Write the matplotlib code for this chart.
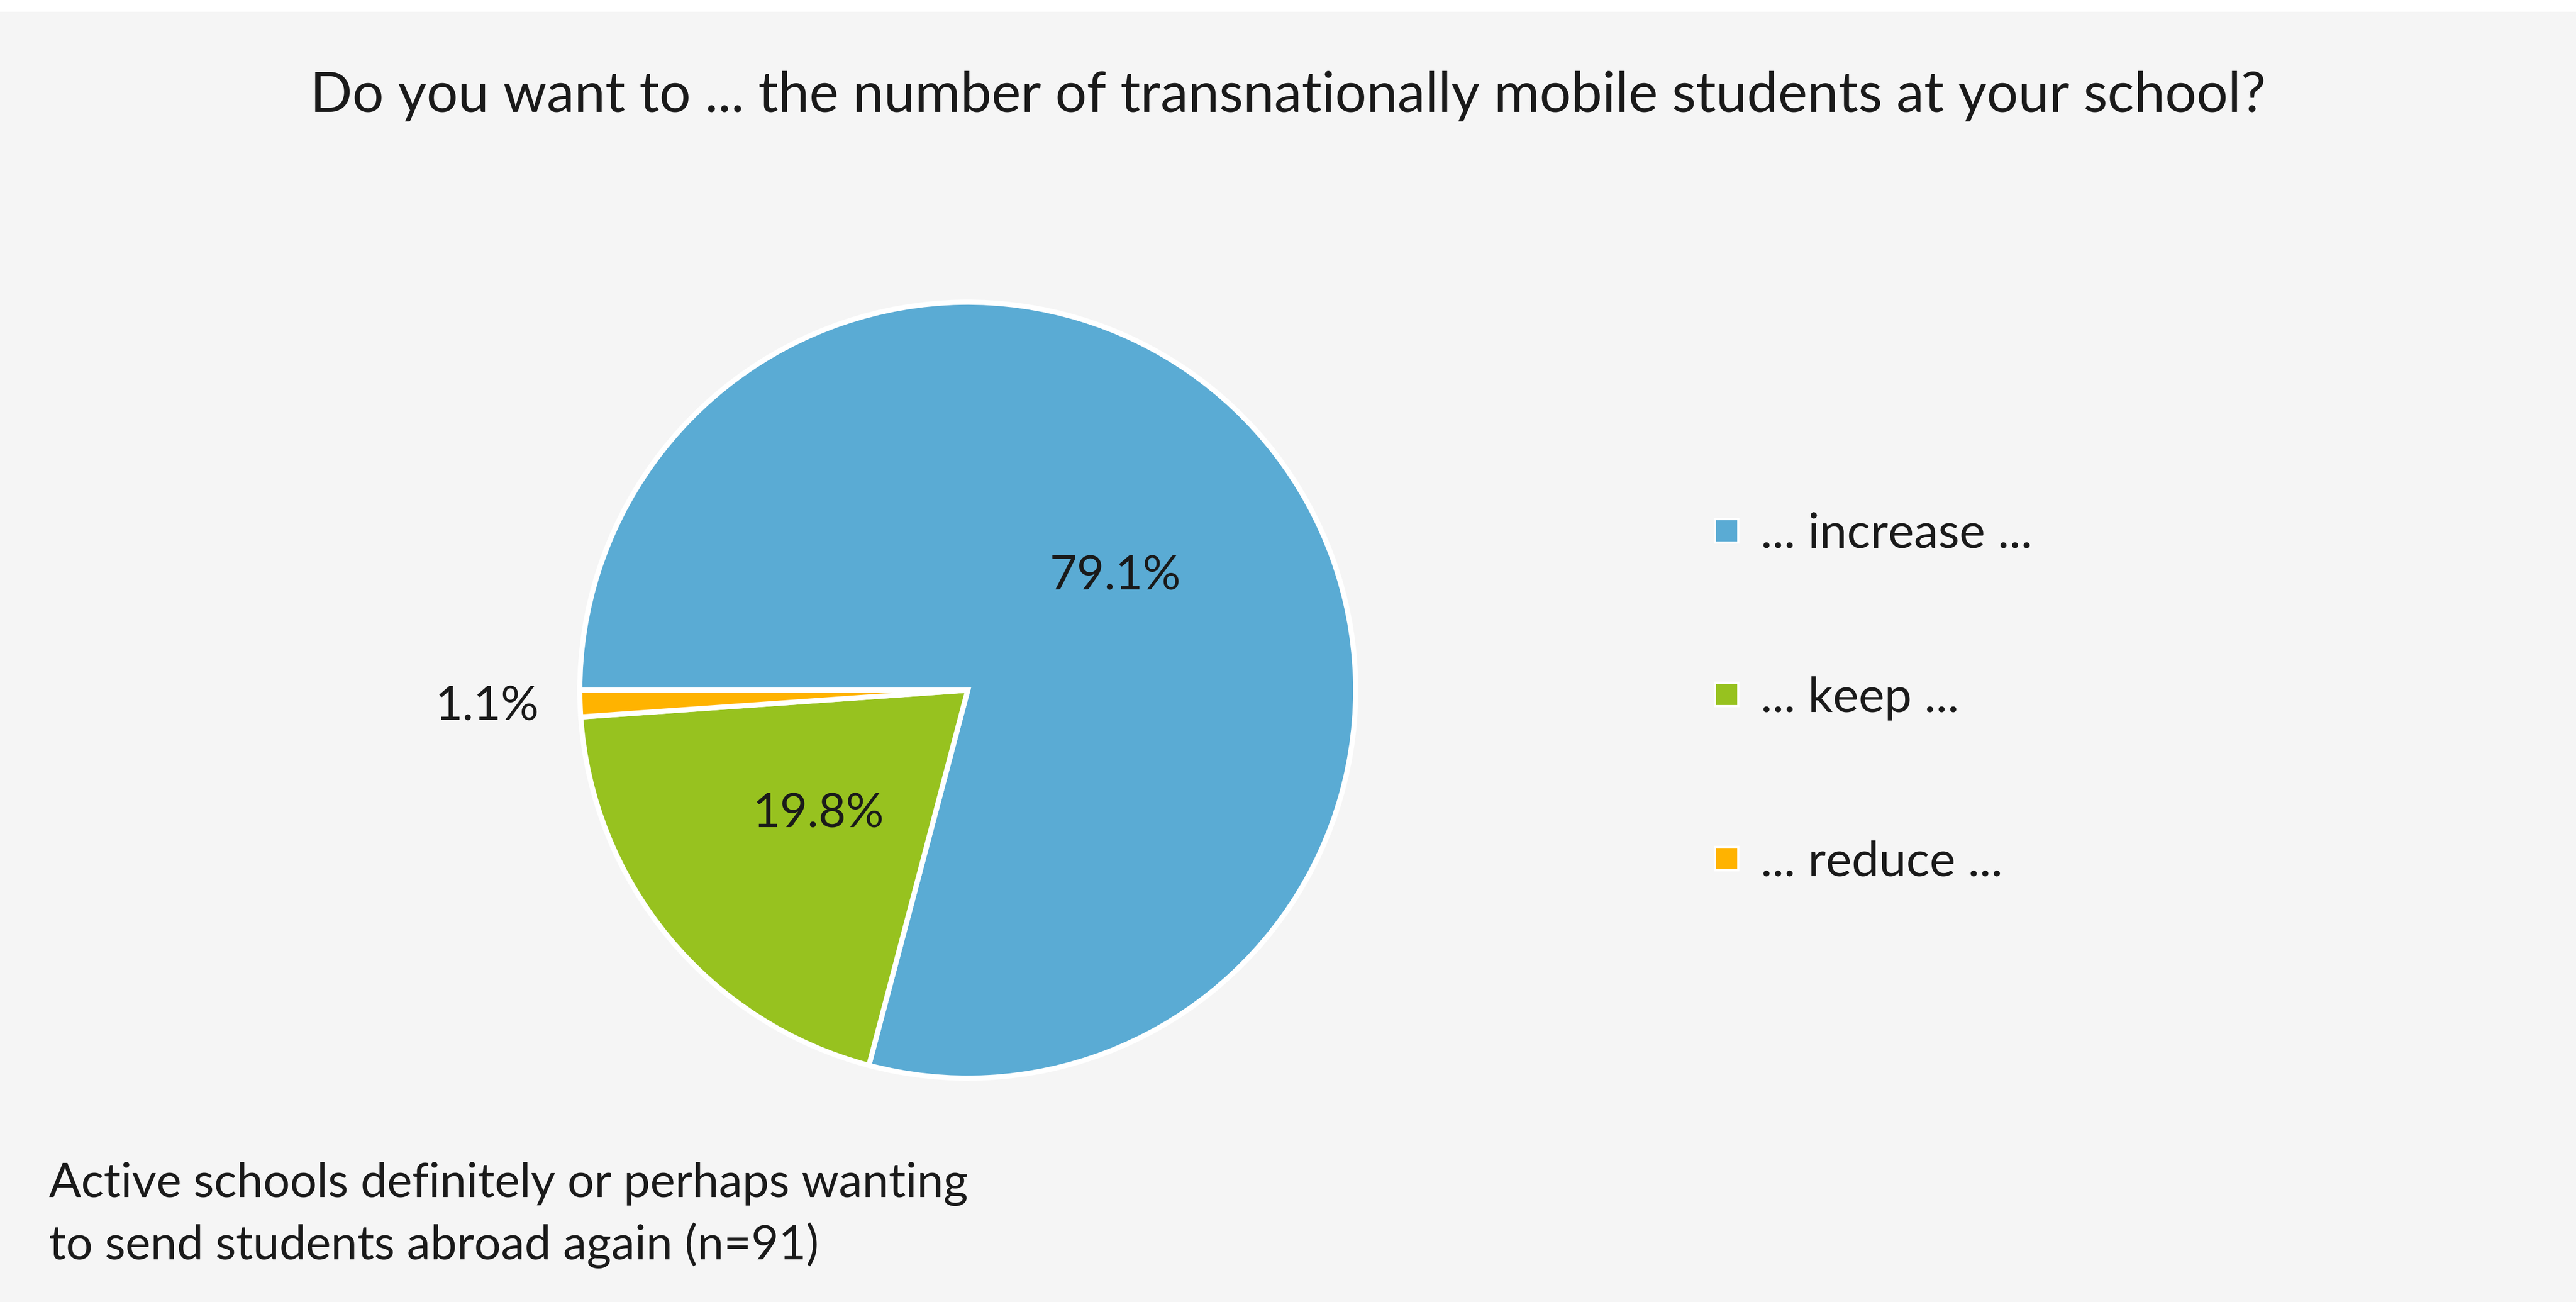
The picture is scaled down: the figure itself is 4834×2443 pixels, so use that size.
import matplotlib
matplotlib.use("Agg")
import matplotlib.pyplot as plt
from matplotlib.lines import Line2D
from matplotlib.patches import Rectangle
import numpy as np

# data
labels = ['... increase ...', '... keep ...', '... reduce ...']
shares = [79.1, 19.8, 1.1]
colors = ['#5aabd4', '#97c21f', '#ffb300']
title = 'Do you want to ... the number of transnationally mobile students at your school?'
note = 'Active schools definitely or perhaps wanting\nto send students abroad again (n=91)'

plt.rcParams['font.family'] = ['Lato', 'DejaVu Sans']

W, H = 4834, 2443
fig = plt.figure(figsize=(W / 100, H / 100), dpi=100, facecolor='#f5f5f5')

# white strip at the very top, like the screenshot
fig.patches.append(Rectangle((0, 1 - 22 / H), 1, 22 / H, transform=fig.transFigure,
                             facecolor='white', edgecolor='none', zorder=0))

cx, cy, R = 1816, 1295, 728
ax = fig.add_axes([(cx - R) / W, (H - cy - R) / H, 2 * R / W, 2 * R / H])
wedges, _ = ax.pie(shares, colors=colors, startangle=180, counterclock=False,
                   radius=1, wedgeprops=dict(edgecolor='white', linewidth=7))
ax.set_xlim(-1, 1)
ax.set_ylim(-1, 1)
ax.set_facecolor('none')
ax.axis('off')

dists = [0.48, 0.5, 1.24]
for w, v, d in zip(wedges, shares, dists):
    ang = np.deg2rad((w.theta1 + w.theta2) / 2)
    ax.text(d * np.cos(ang), d * np.sin(ang), f'{v:.1f}%', ha='center', va='center',
            fontsize=64, color='#1a1a1a')

fig.text(0.5, 1 - 180 / H, title, ha='center', va='center', fontsize=75, color='#1a1a1a')
fig.text(92 / W, 1 - 2280 / H, note, ha='left', va='center', fontsize=64,
         color='#1a1a1a', linespacing=1.45)

handles = [Line2D([], [], ls='none', marker='s', markersize=32, markerfacecolor=c,
                  markeredgecolor='white', markeredgewidth=3) for c in colors]
fig.legend(handles, labels, loc='center left', bbox_to_anchor=(3112 / W, 1 - 1310 / H),
           frameon=False, fontsize=66, labelspacing=2.45, handletextpad=0.2,
           handlelength=1.0, labelcolor='#1a1a1a')

fig.savefig('out.png', dpi=100, facecolor=fig.get_facecolor())
